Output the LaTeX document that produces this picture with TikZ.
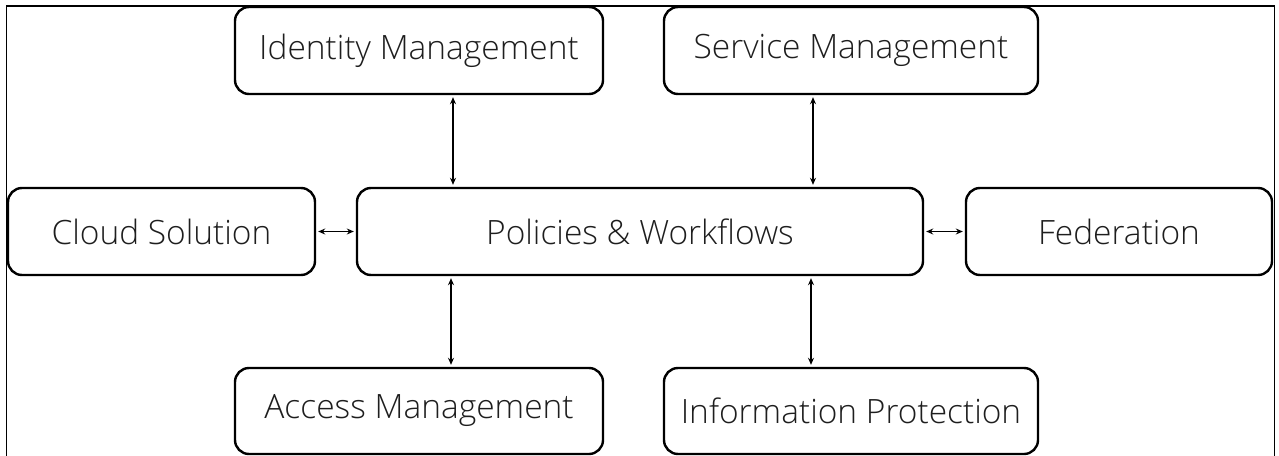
\documentclass[tikz,border=0pt]{standalone}
\usepackage{fontspec}
\setmainfont{Open Sans}[UprightFont={* Light}]
\usetikzlibrary{arrows.meta}
\definecolor{txt}{HTML}{1E1E1E}
\tikzset{
  box/.style={draw=black, line width=2.4pt, rounded corners=14pt, fill=white,
    inner sep=0pt, text=txt, font=\fontsize{33.5}{39}\selectfont, anchor=center},
  link/.style={line width=1.8pt, {Stealth[length=7pt,width=6pt]}-{Stealth[length=7pt,width=6pt]}, shorten <=2pt, shorten >=2pt}
}
\begin{document}
\begin{tikzpicture}[x=1pt,y=-1pt]
\useasboundingbox (0,0) rectangle (1279,455);
% outer frame
\draw[line width=1.2pt] (6.5,470) -- (6.5,6) -- (1274.5,6) -- (1274.5,470);
\draw[line width=2.2pt] (6.5,6) -- (1274.5,6);
% nodes
\node[box, minimum width=368pt, minimum height=87pt] (ident) at (419,50.5) {Identity Management};
\node[box, minimum width=374pt, minimum height=87pt] (serv) at (851,50.5) {Service Management};
\node[box, minimum width=307pt, minimum height=87pt] (cloud) at (161.5,231.5) {Cloud Solution};
\node[box, minimum width=566pt, minimum height=87pt] (pol) at (640,231.5) {Policies \& Workflows};
\node[box, minimum width=306pt, minimum height=87pt] (fed) at (1119,231.5) {Federation};
\node[box, minimum width=368pt, minimum height=86pt] (acc) at (419,411) {\raisebox{4pt}{Access Management}};
\node[box, minimum width=374pt, minimum height=86pt] (info) at (851,411) {Information Protection};
% connector anchors
\coordinate (c1) at (453,0);
\coordinate (c2) at (813,0);
\coordinate (c3) at (451,0);
\coordinate (c4) at (811,0);
% connectors
\draw[link] (ident.south -| c1) -- (pol.north -| c1);
\draw[link] (serv.south -| c2) -- (pol.north -| c2);
\draw[link] (pol.south -| c3) -- (acc.north -| c3);
\draw[link] (pol.south -| c4) -- (info.north -| c4);
\draw[link] (cloud.east) -- (pol.west);
\draw[link] (pol.east) -- (fed.west);
\end{tikzpicture}
\end{document}
